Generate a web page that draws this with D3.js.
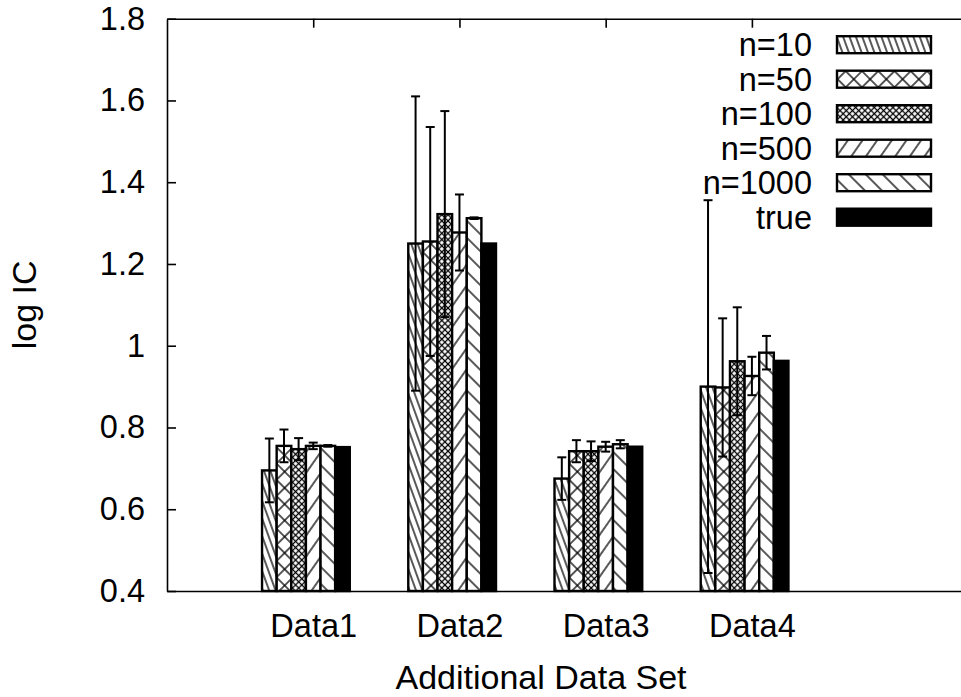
<!DOCTYPE html>
<html>
<head>
<meta charset="utf-8">
<script src="https://cdn.jsdelivr.net/npm/d3@7"></script>
<style>
  body { margin: 0; background: #fff; }
  text { font-family: "Liberation Sans", Arial, Helvetica, sans-serif; font-size: 32.5px; fill: #000; }
  text.title { font-size: 34px; }
</style>
</head>
<body>
<div class="render"></div>
<script>
// categories / series
var categories = ['Data1', 'Data2', 'Data3', 'Data4'];
var seriesNames = ['n=10', 'n=50', 'n=100', 'n=500', 'n=1000', 'true'];

// bar heights (log IC)
var n10 = [0.695, 1.25, 0.675, 0.90];
var n50 = [0.755, 1.255, 0.742, 0.898];
var n100 = [0.747, 1.322, 0.742, 0.962];
var n500 = [0.755, 1.277, 0.753, 0.926];
var n1000 = [0.755, 1.312, 0.759, 0.983];
var trueVals = [0.752, 1.25, 0.753, 0.963];

// half width of error bars
var n10Err = [0.078, 0.36, 0.052, 0.456];
var n50Err = [0.04, 0.28, 0.027, 0.169];
var n100Err = [0.027, 0.252, 0.024, 0.132];
var n500Err = [0.008, 0.093, 0.012, 0.047];
var n1000Err = [0.002, 0.002, 0.01, 0.041];

var yTicks = [0.4, 0.6, 0.8, 1.0, 1.2, 1.4, 1.6, 1.8];
var yTickLabels = ['0.4', '0.6', '0.8', '1', '1.2', '1.4', '1.6', '1.8'];

var seriesVals = [n10, n50, n100, n500, n1000, trueVals];
var seriesErr = [n10Err, n50Err, n100Err, n500Err, n1000Err, null];
var patternIds = ['p10', 'p50', 'p100', 'p500', 'p1000', null];

var width = 961, height = 697;
var pLeft = 167, pRight = 961, pTop = 18.7, pBottom = 591;

var svg = d3.select('.render').append('svg')
    .attr('width', width).attr('height', height);

// hatch patterns, gnuplot style
var defs = svg.append('defs');
function hatch(id, angle, gap, cross) {
    var p = defs.append('pattern')
        .attr('id', id)
        .attr('patternUnits', 'userSpaceOnUse')
        .attr('width', gap).attr('height', gap)
        .attr('patternTransform', 'rotate(' + angle + ')');
    p.append('rect').attr('width', gap).attr('height', gap).attr('fill', '#fff');
    p.append('line').attr('x1', gap / 2).attr('x2', gap / 2).attr('y1', 0).attr('y2', gap)
        .attr('stroke', '#000').attr('stroke-width', 1.3);
    if (cross) {
        p.append('line').attr('y1', gap / 2).attr('y2', gap / 2).attr('x1', 0).attr('x2', gap)
            .attr('stroke', '#000').attr('stroke-width', 1.3);
    }
}
hatch('p10', -20, 6, false);
hatch('p50', 45, 11.5, true);
hatch('p100', 45, 4.4, true);
hatch('p500', 35, 12, false);
hatch('p1000', -45, 12, false);

function fillOf(j) {
    return patternIds[j] ? 'url(#' + patternIds[j] + ')' : '#000';
}

var x = d3.scaleLinear().domain([-1, 4.43]).range([pLeft, pRight]);
var y = d3.scaleLinear().domain([0.4, 1.8]).range([pBottom, pTop]);
var barW = 0.1;

function styleAxis(g) {
    g.selectAll('text').attr('font-size', null).attr('font-family', null);
    g.selectAll('line, path').attr('stroke', '#000').attr('stroke-width', 1.6);
}

// axes
svg.append('g')
    .attr('transform', 'translate(' + pLeft + ',0)')
    .call(d3.axisLeft(y).tickValues(yTicks)
        .tickFormat(function(d, i) { return yTickLabels[i]; })
        .tickSizeInner(-9).tickSizeOuter(0).tickPadding(22))
    .call(styleAxis);

svg.append('g')
    .attr('transform', 'translate(0,' + pBottom + ')')
    .call(d3.axisBottom(x).tickValues(d3.range(categories.length))
        .tickFormat(function(d) { return categories[d]; })
        .tickSizeInner(-9).tickSizeOuter(0).tickPadding(23))
    .call(styleAxis);

svg.append('g')
    .attr('transform', 'translate(0,' + pTop + ')')
    .call(d3.axisTop(x).tickValues(d3.range(categories.length))
        .tickFormat('').tickSizeInner(-9).tickSizeOuter(0))
    .call(styleAxis);

// bars
var bars = [];
seriesVals.forEach(function(vals, j) {
    vals.forEach(function(v, i) {
        bars.push({ s: j, c: i, v: v, e: seriesErr[j] ? seriesErr[j][i] : null });
    });
});

function barLeft(d) { return x(d.c - 0.35 + d.s * barW); }

svg.append('g').selectAll('rect')
    .data(bars).enter().append('rect')
    .attr('x', barLeft)
    .attr('y', function(d) { return y(d.v); })
    .attr('width', x(barW) - x(0))
    .attr('height', function(d) { return y(0.4) - y(d.v); })
    .attr('fill', function(d) { return fillOf(d.s); })
    .attr('stroke', '#000').attr('stroke-width', 2.4);

// error bars
var eg = svg.append('g').attr('stroke', '#000').attr('stroke-width', 2);
bars.filter(function(d) { return d.e !== null; }).forEach(function(d) {
    var cx = x(d.c - 0.3 + d.s * barW);
    var y1 = y(d.v + d.e), y2 = y(d.v - d.e);
    eg.append('line').attr('x1', cx).attr('x2', cx).attr('y1', y1).attr('y2', y2);
    eg.append('line').attr('x1', cx - 4.5).attr('x2', cx + 4.5).attr('y1', y1).attr('y2', y1);
    eg.append('line').attr('x1', cx - 4.5).attr('x2', cx + 4.5).attr('y1', y2).attr('y2', y2);
});

// legend
var leg = svg.append('g').selectAll('g')
    .data(seriesNames).enter().append('g')
    .attr('transform', function(d, i) { return 'translate(0,' + (44.7 + i * 34.5) + ')'; });
leg.append('text')
    .attr('x', 812).attr('y', 11.3)
    .attr('text-anchor', 'end')
    .text(function(d) { return d; });
leg.append('rect')
    .attr('x', 837).attr('y', -8.5)
    .attr('width', 94).attr('height', 17)
    .attr('fill', function(d, i) { return fillOf(i); })
    .attr('stroke', '#000').attr('stroke-width', 2.4);

// axis titles
svg.append('text')
    .attr('class', 'title')
    .attr('x', 541).attr('y', 689)
    .attr('text-anchor', 'middle')
    .text('Additional Data Set');

svg.append('text')
    .attr('class', 'title')
    .attr('transform', 'translate(36,' + ((pTop + pBottom) / 2) + ') rotate(-90)')
    .attr('text-anchor', 'middle')
    .text('log IC');
</script>
</body>
</html>
